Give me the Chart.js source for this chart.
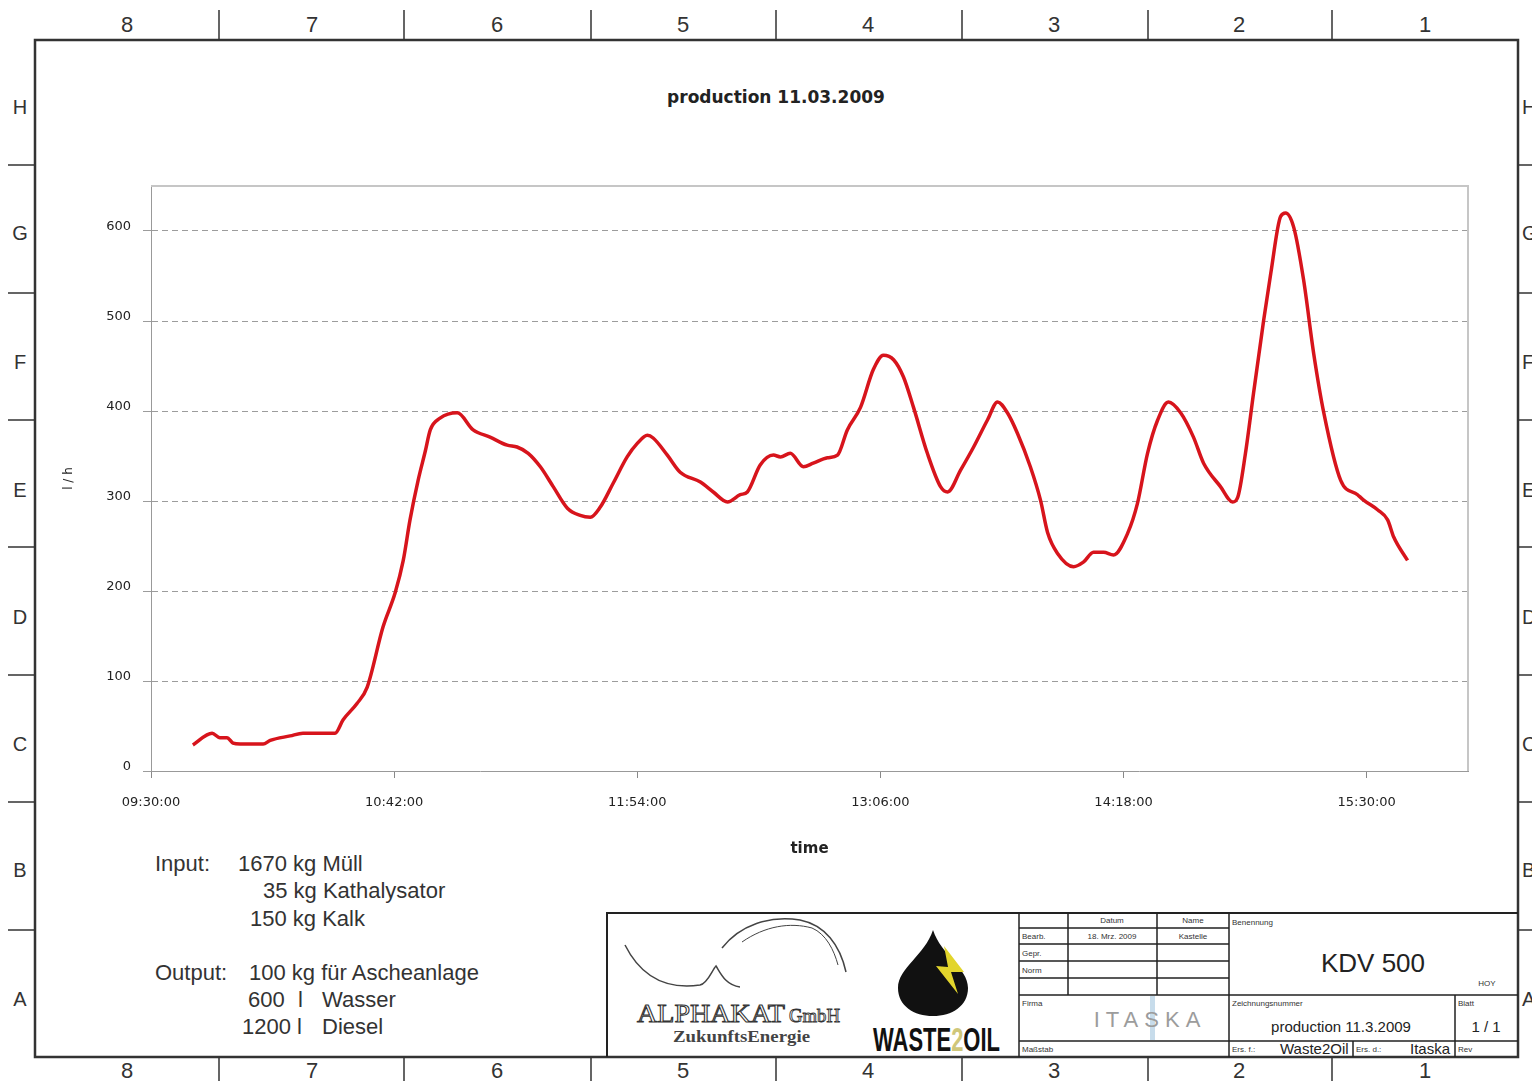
<!DOCTYPE html>
<html lang="de">
<head>
<meta charset="utf-8">
<title>production 11.03.2009</title>
<script src="https://cdn.jsdelivr.net/npm/chart.js@4.4.1/dist/chart.umd.min.js"></script>
<style>
    html, body { margin: 0; padding: 0; background: #fff; }
    body { width: 1532px; height: 1081px; position: relative; overflow: hidden; }
    #sheet, #production-chart { position: absolute; left: 0; top: 0; }
    .ruler { font-family: 'Liberation Sans Narrow', 'Liberation Sans', sans-serif; font-size: 22px; fill: #333; }
    .letter { font-family: 'Liberation Sans', sans-serif; font-size: 20px; fill: #333; }
    .note { font-family: 'Liberation Sans', Arial, sans-serif; font-size: 22px; fill: #333; }
    .small { font-family: 'Liberation Sans', Arial, sans-serif; font-size: 8px; fill: #333; }
    .mid { font-family: 'Liberation Sans', Arial, sans-serif; font-size: 15px; fill: #222; }
</style>
</head>
<body>
<svg id="sheet" width="1532" height="1081" xmlns="http://www.w3.org/2000/svg">
    <!-- drawing frame and rulers -->
    <g stroke="#333" fill="none" stroke-width="1.5">
        <rect x="35" y="40" width="1483" height="1017" stroke-width="2.5"/>
        <path d="M219 10V40M404 10V40M591 10V40M776 10V40M962 10V40M1148 10V40M1332 10V40"/>
        <path d="M219 1057V1081M404 1057V1081M591 1057V1081M776 1057V1081M962 1057V1081M1148 1057V1081M1332 1057V1081"/>
        <path d="M8 165H35M8 293H35M8 420H35M8 547H35M8 675H35M8 802H35M8 930H35"/>
        <path d="M1518 165H1532M1518 293H1532M1518 420H1532M1518 547H1532M1518 675H1532M1518 802H1532M1518 930H1532"/>
    </g>
    <g class="ruler" text-anchor="middle">
        <text x="127" y="32">8</text><text x="312" y="32">7</text><text x="497" y="32">6</text><text x="683" y="32">5</text>
        <text x="868" y="32">4</text><text x="1054" y="32">3</text><text x="1239" y="32">2</text><text x="1425" y="32">1</text>
        <text x="127" y="1078">8</text><text x="312" y="1078">7</text><text x="497" y="1078">6</text><text x="683" y="1078">5</text>
        <text x="868" y="1078">4</text><text x="1054" y="1078">3</text><text x="1239" y="1078">2</text><text x="1425" y="1078">1</text>
    </g>
    <g class="letter" text-anchor="middle">
        <text x="20" y="114">H</text><text x="20" y="240">G</text><text x="20" y="369">F</text><text x="20" y="497">E</text>
        <text x="20" y="624">D</text><text x="20" y="751">C</text><text x="20" y="877">B</text><text x="20" y="1006">A</text>
    </g>
    <g class="letter">
        <text x="1522" y="114">H</text><text x="1522" y="240">G</text><text x="1522" y="369">F</text><text x="1522" y="497">E</text>
        <text x="1522" y="624">D</text><text x="1522" y="751">C</text><text x="1522" y="877">B</text><text x="1522" y="1006">A</text>
    </g>

    <text x="776" y="103" text-anchor="middle" font-family="DejaVu Sans, sans-serif" font-weight="bold" font-size="17" fill="#222">production 11.03.2009</text>

    <!-- input / output notes -->
    <g class="note">
        <text x="155" y="871">Input:</text>
        <text x="238" y="871">1670 kg Müll</text>
        <text x="263" y="898">35 kg Kathalysator</text>
        <text x="250" y="926">150 kg Kalk</text>
        <text x="155" y="980">Output:</text>
        <text x="249" y="980">100 kg für Ascheanlage</text>
        <text x="248" y="1007">600</text><text x="298" y="1007">l</text><text x="322" y="1007">Wasser</text>
        <text x="242" y="1034">1200 l</text><text x="322" y="1034">Diesel</text>
    </g>

    <!-- title block -->
    <g stroke="#222" fill="none" stroke-width="1.5">
        <path d="M607 1057V913H1518" stroke-width="2"/>
        <path d="M1019 913V1057M1068 913V995M1157 913V995M1229 913V1057M1455 995V1057M1353 1041V1057"/>
        <path d="M1019 928H1229M1019 944H1229M1019 961H1229M1019 978H1229M1019 995H1518M1019 1041H1518"/>
    </g>
    <g class="small">
        <text x="1112" y="923" text-anchor="middle">Datum</text>
        <text x="1193" y="923" text-anchor="middle">Name</text>
        <text x="1022" y="939">Bearb.</text>
        <text x="1112" y="939" text-anchor="middle">18. Mrz. 2009</text>
        <text x="1193" y="939" text-anchor="middle">Kastelle</text>
        <text x="1022" y="956">Gepr.</text>
        <text x="1022" y="973">Norm</text>
        <text x="1022" y="1006">Firma</text>
        <text x="1022" y="1052">Maßstab</text>
        <text x="1232" y="925">Benennung</text>
        <text x="1487" y="986" text-anchor="middle">HOY</text>
        <text x="1232" y="1006">Zeichnungsnummer</text>
        <text x="1458" y="1006">Blatt</text>
        <text x="1232" y="1052">Ers. f.:</text>
        <text x="1356" y="1052">Ers. d.:</text>
        <text x="1458" y="1052">Rev</text>
    </g>
    <text x="1373" y="972" text-anchor="middle" font-family="Liberation Sans, Arial, sans-serif" font-size="26" fill="#222">KDV 500</text>
    <text class="mid" x="1341" y="1032" text-anchor="middle">production 11.3.2009</text>
    <text class="mid" x="1486" y="1032" text-anchor="middle">1 / 1</text>
    <text class="mid" x="1280" y="1054">Waste2Oil</text>
    <text class="mid" x="1410" y="1054" font-size="14">Itaska</text>

    <!-- ITASKA logo -->
    <rect x="1150" y="996" width="5" height="44" fill="#c7dceb"/>
    <text x="1150" y="1027" text-anchor="middle" font-family="Liberation Sans, sans-serif" font-size="22" letter-spacing="6" fill="#9c9c9c">ITASKA</text>

    <!-- ALPHAKAT logo -->
    <g stroke="#444" fill="none" stroke-width="1.5">
        <path d="M625 945C640 975 665 990 700 985C708 983 712 970 716 966C720 972 725 985 740 987"/>
        <path d="M722 948C740 925 770 915 800 920C825 925 840 945 846 972"/>
        <path d="M742 942C765 926 790 922 812 928C826 934 834 950 838 965" stroke-width="1"/>
    </g>
    <text x="637" y="1022" font-family="Liberation Serif, serif" font-size="25" fill="#fff" stroke="#333" stroke-width="1" textLength="148" lengthAdjust="spacingAndGlyphs">ALPHAKAT</text>
    <text x="789" y="1022" font-family="Liberation Serif, serif" font-size="19" fill="#fff" stroke="#333" stroke-width="0.9" textLength="51" lengthAdjust="spacingAndGlyphs">GmbH</text>
    <text x="673" y="1042" font-family="Liberation Serif, serif" font-weight="bold" font-size="17" fill="#444" textLength="137" lengthAdjust="spacingAndGlyphs">ZukunftsEnergie</text>

    <!-- WASTE2OIL logo -->
    <path d="M933 930C925 955 898 968 898 988C898 1006 914 1016 933 1016C952 1016 968 1006 968 988C968 968 941 955 933 930Z" fill="#111"/>
    <path d="M944 946L964 972L951 972L958 994L936 966L948 967Z" fill="#e2d52c"/>
    <text x="873" y="1051" font-family="Liberation Sans Narrow, Liberation Sans, sans-serif" font-weight="bold" font-size="34" fill="#111" textLength="127" lengthAdjust="spacingAndGlyphs">WASTE<tspan fill="#cfc77a">2</tspan>OIL</text>
</svg>
<canvas id="production-chart" width="1532" height="1081"></canvas>
<script>
// minutes after 09:30:00 and flow in l/h
const minutesAfterStart = [
    12.4, 18.1, 20.4, 22.5, 24.3, 26.4, 33.2, 35.3, 41.2, 45.0,
    54.5, 56.9, 61.0, 64.0, 68.7, 72.3, 74.7, 76.7, 79.1, 81.2,
    82.7, 85.6, 90.7, 95.4, 100.4, 105.5, 108.4, 111.7, 115.3, 119.1,
    123.3, 127.1, 130.1, 133.0, 136.9, 141.0, 144.0, 147.0, 148.7, 152.9,
    156.7, 162.7, 166.5, 170.7, 174.5, 176.6, 180.4, 184.3, 186.4, 189.3,
    193.2, 196.1, 200.3, 203.3, 206.2, 210.1, 213.9, 216.9, 219.9, 222.8,
    225.8, 229.9, 233.8, 235.9, 239.7, 243.6, 247.7, 250.7, 253.6, 256.6,
    260.4, 263.4, 265.5, 268.4, 273.2, 276.1, 279.1, 282.1, 285.0, 289.2,
    292.1, 295.1, 298.1, 301.3, 304.9, 308.7, 311.7, 316.7, 320.3, 321.8,
    324.1, 326.5, 329.5, 331.6, 334.5, 336.0, 338.4, 341.3, 344.3, 347.3,
    352.3, 357.3, 359.1, 363.3, 366.2, 368.0, 372.1
];
const flowLitersPerHour = [
    29, 42, 37, 37, 31, 30, 30, 34, 39, 42,
    42, 57, 75, 93, 160, 198, 234, 279, 323, 355,
    379, 392, 398, 379, 371, 362, 360, 353, 338, 316,
    292, 284, 282, 293, 320, 349, 364, 373, 370, 351,
    332, 321, 310, 299, 307, 310, 340, 351, 349, 353,
    338, 342, 348, 351, 379, 404, 446, 462, 457, 438,
    404, 353, 316, 310, 334, 360, 390, 410, 398, 375,
    338, 301, 265, 242, 227, 232, 243, 243, 240, 264,
    297, 353, 390, 410, 398, 371, 342, 316, 299, 304,
    353, 420, 501, 553, 616, 620, 604, 546, 464, 398,
    323, 307, 301, 290, 279, 260, 234
];

const startHour = 9;
const startMinute = 30;
const xMaxMinutes = 390;     // 16:00:00
const xTickStep = 72;        // 1 h 12 min
const yMaxFlow = 650;
const yTickStep = 100;

function clockLabel(minutes) {
    const total = startHour * 60 + startMinute + Math.round(minutes);
    const hh = String(Math.floor(total / 60)).padStart(2, '0');
    const mm = String(total % 60).padStart(2, '0');
    return `${hh}:${mm}:00`;
}

document.addEventListener('DOMContentLoaded', function () {
    const ctx = document.getElementById('production-chart');
    if (!ctx) return;

    Chart.defaults.font.family = "'DejaVu Sans', sans-serif";
    Chart.defaults.color = '#222';

    // light frame on top and right of the plot area
    const PlotFrame = {
        id: 'plotFrame',
        beforeDatasetsDraw(chart, _args, opts) {
            const { ctx: c, chartArea: a } = chart;
            c.save();
            c.strokeStyle = opts.color;
            c.lineWidth = opts.width;
            c.beginPath();
            c.moveTo(a.left, a.top);
            c.lineTo(a.right, a.top);
            c.lineTo(a.right, a.bottom);
            c.stroke();
            c.restore();
        }
    };

    const points = minutesAfterStart.map((t, i) => ({ x: t, y: flowLitersPerHour[i] }));

    new Chart(ctx, {
        type: 'line',
        data: {
            datasets: [{
                label: 'l / h',
                data: points,
                borderColor: '#d7141c',
                borderWidth: 3.5,
                pointRadius: 0,
                cubicInterpolationMode: 'monotone',
                fill: false
            }]
        },
        options: {
            responsive: false,
            animation: false,
            devicePixelRatio: 1,
            layout: {
                padding: { left: 55, right: 64, top: 186, bottom: 220 }
            },
            plugins: {
                legend: { display: false },
                tooltip: { enabled: false },
                plotFrame: { color: '#c6c6c6', width: 2 }
            },
            scales: {
                x: {
                    type: 'linear',
                    min: 0,
                    max: xMaxMinutes,
                    afterFit: function (scale) { scale.height = 90; },
                    ticks: {
                        stepSize: xTickStep,
                        includeBounds: false,
                        autoSkip: false,
                        maxRotation: 0,
                        padding: 17,
                        font: { size: 13 },
                        callback: function (value) { return clockLabel(value); }
                    },
                    grid: {
                        drawOnChartArea: false,
                        tickLength: 7,
                        tickColor: '#888'
                    },
                    border: { color: '#999', width: 1 },
                    title: {
                        display: true,
                        text: 'time',
                        font: { size: 15, weight: 'bold' },
                        padding: { top: 0, bottom: 3 }
                    }
                },
                y: {
                    min: 0,
                    max: yMaxFlow,
                    afterFit: function (scale) { scale.width = 96; },
                    ticks: {
                        stepSize: yTickStep,
                        includeBounds: false,
                        padding: 12,
                        labelOffset: -4,
                        font: { size: 13 }
                    },
                    grid: {
                        color: '#9c9c9c',
                        lineWidth: 1,
                        tickLength: 8,
                        tickColor: '#9c9c9c'
                    },
                    border: { color: '#999', width: 1, dash: [6, 4] },
                    title: {
                        display: true,
                        text: 'l / h',
                        font: { size: 12 },
                        padding: { top: 7, bottom: 0 }
                    }
                }
            }
        },
        plugins: [PlotFrame]
    });
});
</script>
</body>
</html>
